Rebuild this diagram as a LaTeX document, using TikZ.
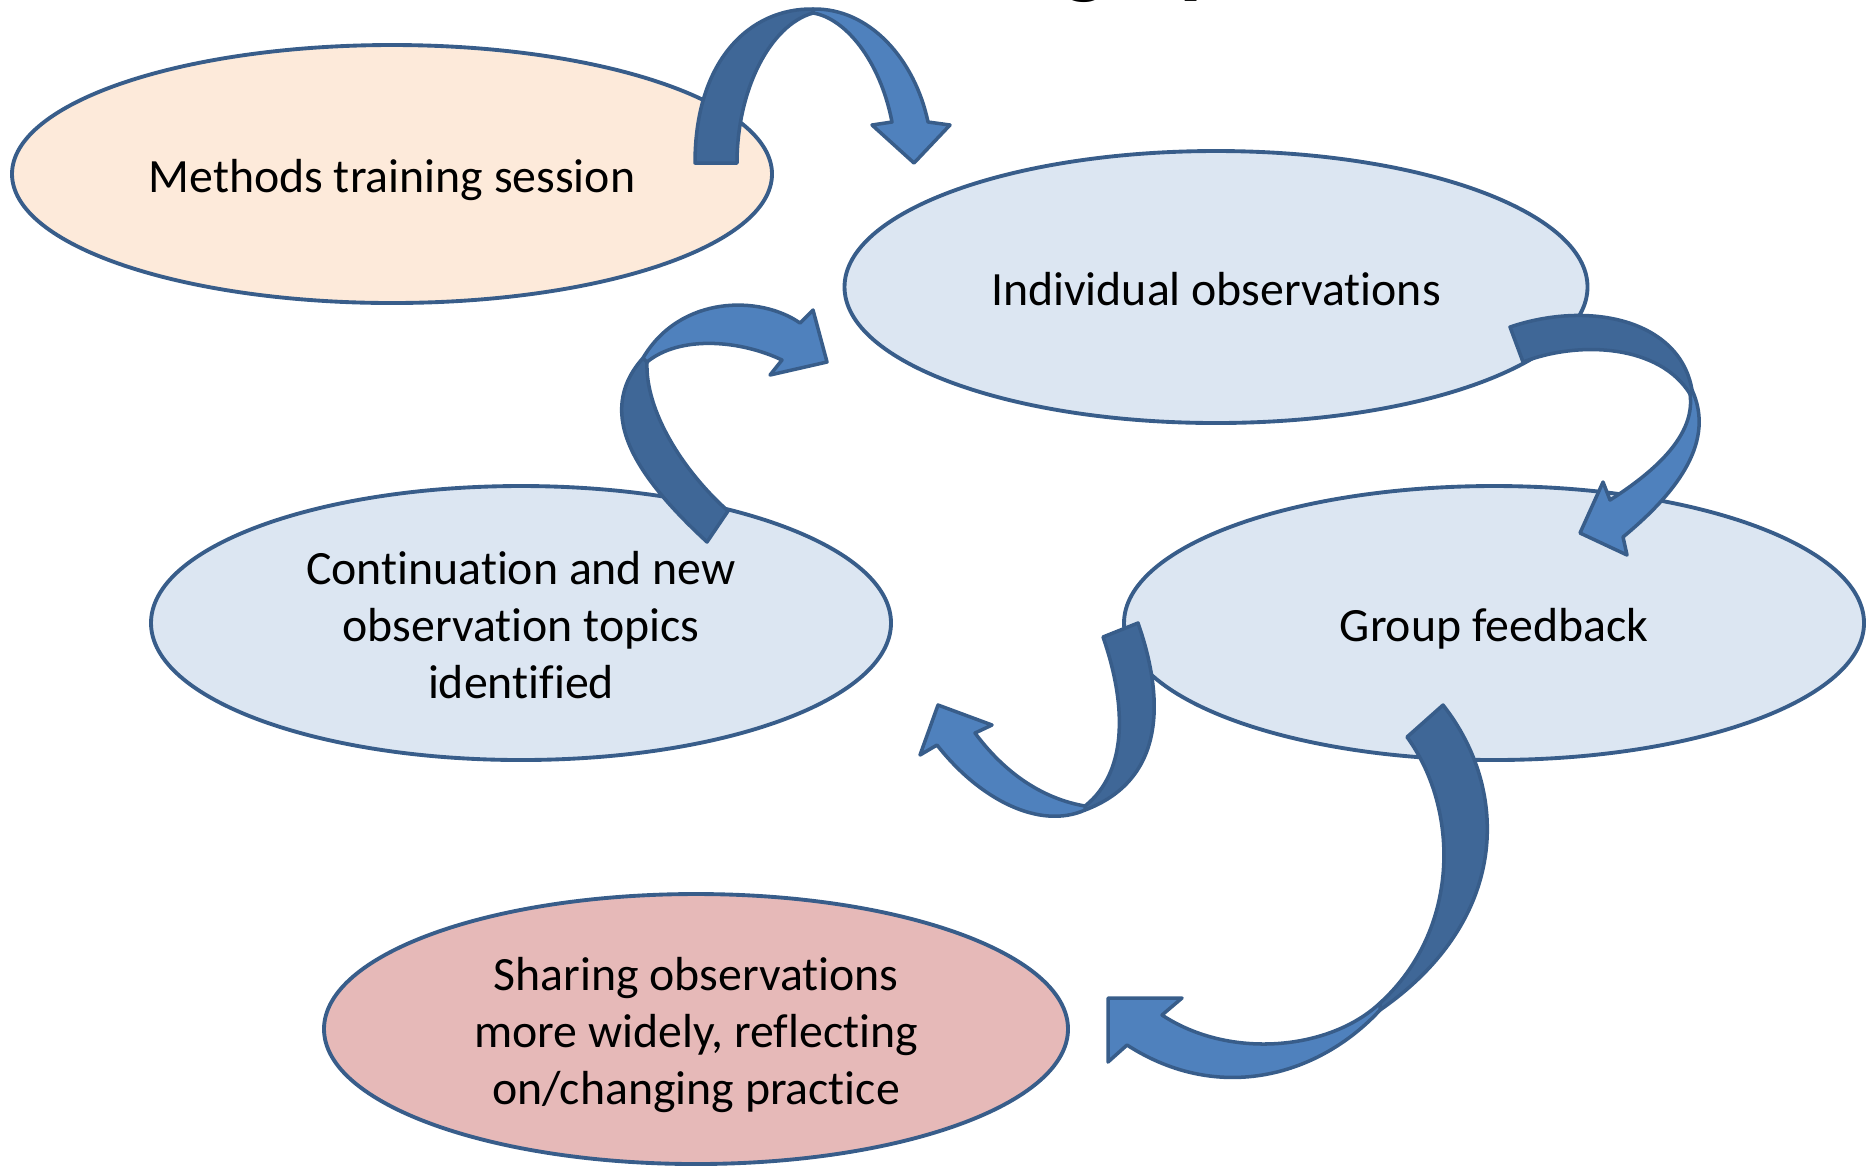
\documentclass[tikz,border=0pt]{standalone}
\usepackage{fontspec}
\setmainfont{Carlito}[Ligatures=NoCommon]
\usetikzlibrary{shapes}

\definecolor{rim}{HTML}{385D8A}
\definecolor{peach}{HTML}{FDEADA}
\definecolor{paleblue}{HTML}{DCE6F2}
\definecolor{rose}{HTML}{E6B9B8}
\definecolor{ribbonfront}{HTML}{4F81BD}
\definecolor{ribbonback}{HTML}{3F6797}

\tikzset{
  stage/.style={ellipse, draw=rim, line width=1.1pt, align=center, inner sep=0pt,
    font=\fontsize{13.6}{16.1}\selectfont, text height=13.5pt, text depth=3pt},
  threelines/.style={text height=45.7pt},
  front/.style={fill=ribbonfront, draw=rim, line width=1pt, line join=round},
  back/.style={fill=ribbonback, draw=rim, line width=1pt, line join=round},
}

\begin{document}
\begin{tikzpicture}[x=0.1mm,y=-0.1mm]
\useasboundingbox (0,0) rectangle (1867,1167);
\clip (0,0) rectangle (1867,1167);

% heading, only its descenders show
\node[font=\fontsize{27}{30}\selectfont\bfseries, anchor=base](headg) at (1085,-14){g};
\node[font=\fontsize{27}{30}\selectfont\bfseries, anchor=base](headp) at (1205,-14){p};

\node[stage, fill=peach, minimum width=7.6cm, minimum height=2.58cm](methods) at (392,174){Methods training session};
\node[stage, fill=paleblue, minimum width=7.43cm, minimum height=2.72cm](indiv) at (1216,287){Individual observations};
\node[stage, threelines, fill=paleblue, minimum width=7.4cm, minimum height=2.74cm](contin) at (521,623){Continuation and new\\observation topics\\identified};
\node[stage, fill=paleblue, minimum width=7.4cm, minimum height=2.74cm](group) at (1494,623){Group feedback};
\node[stage, threelines, fill=rose, minimum width=7.44cm, minimum height=2.7cm](sharing) at (696,1029){Sharing observations\\more widely, reflecting\\on/changing practice};

% methods -> individual
\draw[back] (695,163) .. controls (695,60) and (750,8) .. (813,9)
  -- (813,13) .. controls (770,25) and (737,90) .. (737,163) -- cycle;
\draw[front] (813,9) .. controls (870,8) and (915,60) .. (928,122)
  -- (950,125) -- (914,163) -- (872,125) -- (892,122)
  .. controls (880,60) and (845,18) .. (813,13) -- cycle;

% individual -> group
\draw[back] (1510,327) .. controls (1590,300) and (1680,320) .. (1692,390)
  -- (1690,394) .. controls (1660,345) and (1580,340) .. (1523,362) -- cycle;
\draw[front] (1692,390) .. controls (1715,440) and (1680,490) .. (1623,537)
  -- (1627,555) -- (1580,533) -- (1603,482) -- (1610,500)
  .. controls (1665,465) and (1695,430) .. (1690,394) -- cycle;

% group -> continuation
\draw[back] (1103,637) -- (1138,623) .. controls (1165,700) and (1165,780) .. (1085,810)
  -- (1085,806) .. controls (1130,770) and (1125,700) .. (1103,637) -- cycle;
\draw[front] (1085,810) .. controls (1040,830) and (980,800) .. (937,745)
  -- (920,755) -- (938,705) -- (992,725) -- (975,733)
  .. controls (1010,780) and (1050,800) .. (1085,806) -- cycle;

% continuation -> individual
\draw[back] (707,542) .. controls (640,480) and (592,415) .. (643,358)
  -- (647,362) .. controls (645,410) and (682,470) .. (728,511) -- cycle;
\draw[front] (643,358) .. controls (680,295) and (760,295) .. (800,323)
  -- (813,310) -- (827,362) -- (770,375) -- (782,360)
  .. controls (740,340) and (680,335) .. (647,362) -- cycle;

% group -> sharing
\draw[back] (1407,737) -- (1443,705) .. controls (1510,790) and (1510,920) .. (1380,1010)
  -- (1380,1003) .. controls (1460,930) and (1460,810) .. (1407,737) -- cycle;
\draw[front] (1380,1010) .. controls (1320,1075) and (1220,1105) .. (1127,1045)
  -- (1108,1062) -- (1108,998) -- (1182,998) -- (1162,1015)
  .. controls (1230,1060) and (1330,1050) .. (1380,1003) -- cycle;
\end{tikzpicture}
\end{document}
